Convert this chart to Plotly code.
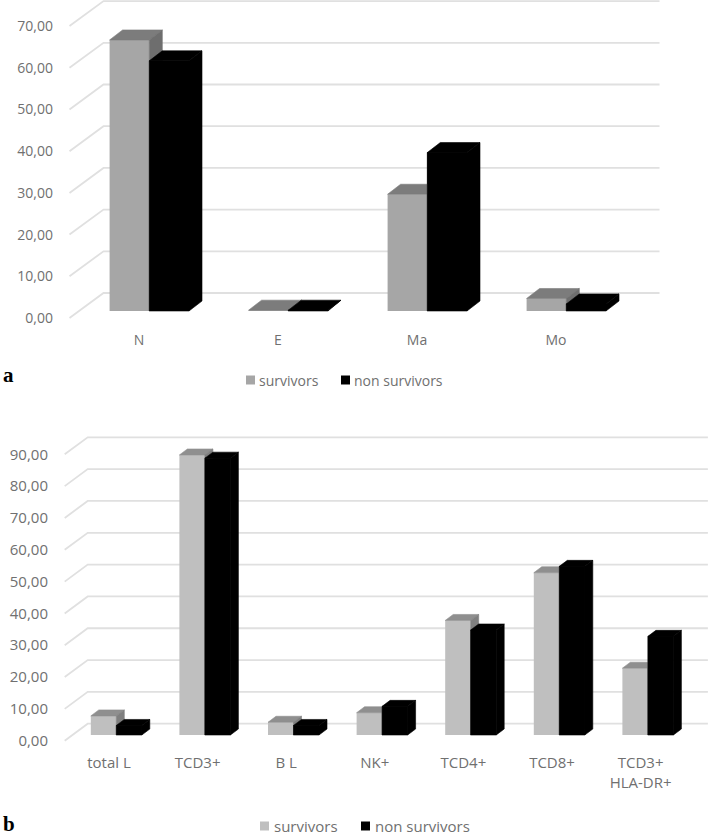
import plotly.graph_objects as go

# panel a
cats_a = ["N", "E", "Ma", "Mo"]
survivors_a = [65.0, 0.2, 28.0, 3.0]
non_survivors_a = [60.0, 0.2, 38.0, 1.7]
ticks_a = [0, 10, 20, 30, 40, 50, 60, 70]

# panel b
cats_b = ["total L", "TCD3+", "B L", "NK+", "TCD4+", "TCD8+", "TCD3+<br>HLA-DR+"]
survivors_b = [6.0, 88.0, 4.0, 7.0, 36.0, 51.0, 21.0]
non_survivors_b = [3.0, 87.0, 3.0, 9.0, 33.0, 53.0, 31.0]
ticks_b = [0, 10, 20, 30, 40, 50, 60, 70, 80, 90]

W, H = 709, 835
FONT = "Open Sans"
TEXT = "#707070"
GRID = "#e0e0e0"
LABELS = ["survivors", "non survivors"]


def face(fig, xs, ys, color, ax):
    fig.add_trace(go.Scatter(
        x=xs, y=ys, mode="lines", fill="toself", fillcolor=color,
        line=dict(color=color, width=0.6), hoverinfo="skip", showlegend=False,
        xaxis=ax[0], yaxis=ax[1],
    ))


def panel(fig, cats, surv, non, ticks, g, wall, bars):
    # g holds the pixel geometry of one panel
    cx = g["cat_w"]
    vy = g["val_h"]
    dom_x = (g["left"], g["right"])
    dom_y = (g["top"], g["bottom"])
    x_range = [(g["left"] - g["c0"]) / cx, (g["right"] - g["c0"]) / cx]
    y_range = [(g["y0"] - g["bottom"]) / vy, (g["y0"] - g["top"]) / vy]
    n = len(cats)

    floor_x, floor_y = g["floor"][0] / cx, g["floor"][1] / vy
    shift_x, base = g["shift"][0] / cx, g["shift"][1] / vy
    depth_x, depth_y = g["depth"][0] / cx, g["depth"][1] / vy
    bw = g["bar_w"] / cx

    # wall and floor lines, under the bars
    gx, gy = [], []
    for t in ticks:
        gx += [-0.5, -0.5 + floor_x, n - 0.5 + floor_x, None]
        gy += [t, t + floor_y, t + floor_y, None]
    fig.add_trace(go.Scatter(
        x=gx, y=gy, mode="lines", line=dict(color=GRID, width=1.8),
        hoverinfo="skip", showlegend=False, xaxis=wall[0], yaxis=wall[1],
    ))

    pos = list(range(n))
    fig.add_trace(go.Bar(
        x=[p + shift_x - bw / 2 for p in pos], y=surv, base=base, width=bw,
        name=LABELS[0], marker=dict(color=g["front"], line=dict(width=0)),
        showlegend=False, xaxis=bars[0], yaxis=bars[1],
    ))
    fig.add_trace(go.Bar(
        x=[p + shift_x + bw / 2 for p in pos], y=non, base=base, width=bw,
        name=LABELS[1], marker=dict(color="#000000", line=dict(width=0)),
        showlegend=False, xaxis=bars[0], yaxis=bars[1],
    ))

    # extruded faces, painted back to front per category
    for p, a, b in zip(pos, surv, non):
        xl = p + shift_x - bw
        xm = p + shift_x
        xr = p + shift_x + bw
        face(fig, [xl, xm, xm + depth_x, xl + depth_x, xl],
             [base + a, base + a, base + a + depth_y, base + a + depth_y, base + a],
             g["top_c"], bars)
        face(fig, [xm, xm + depth_x, xm + depth_x, xm, xm],
             [base + a, base + a + depth_y, base + depth_y, base, base + a],
             g["side_c"], bars)
        face(fig, [xm, xr, xr, xm, xm],
             [base, base, base + b, base + b, base], "#000000", bars)
        face(fig, [xm, xr, xr + depth_x, xm + depth_x, xm],
             [base + b, base + b, base + b + depth_y, base + b + depth_y, base + b],
             "#000000", bars)
        face(fig, [xr, xr + depth_x, xr + depth_x, xr, xr],
             [base + b, base + b + depth_y, base + depth_y, base, base + b],
             "#000000", bars)

    dx = [dom_x[0] / W, dom_x[1] / W]
    dy = [1 - dom_y[1] / H, 1 - dom_y[0] / H]
    tick_font = dict(family=FONT, size=g["font"], color=TEXT)
    fig.layout[wall[0].replace("x", "xaxis")] = dict(
        domain=dx, range=x_range, anchor=wall[1], showgrid=False, zeroline=False,
        showline=False, tickmode="array", tickvals=pos, ticktext=cats,
        tickfont=tick_font, ticks="",
    )
    fig.layout[wall[1].replace("y", "yaxis")] = dict(
        domain=dy, range=y_range, anchor=wall[0], showgrid=False, zeroline=False,
        showline=False, tickmode="array", tickvals=ticks,
        ticktext=[f"{t},00" for t in ticks], tickfont=tick_font, ticks="",
        ticklabelstandoff=g["standoff"],
    )
    fig.layout[bars[0].replace("x", "xaxis")] = dict(
        overlaying=wall[0], range=x_range, anchor=bars[1], visible=False,
    )
    fig.layout[bars[1].replace("y", "yaxis")] = dict(
        overlaying=wall[1], range=y_range, anchor=bars[0], visible=False,
    )


def key(fig, px, py, size, color, label, text_x, font_size):
    # legend entry: square swatch plus its label, placed in page pixels
    fig.add_shape(
        type="rect", xref="paper", yref="paper",
        x0=px / W, x1=(px + size) / W,
        y0=1 - (py + size / 2) / H, y1=1 - (py - size / 2) / H,
        fillcolor=color, line=dict(width=0),
    )
    fig.add_annotation(
        text=label, x=text_x / W, y=1 - py / H, xref="paper", yref="paper",
        xanchor="left", yanchor="middle", showarrow=False, xshift=-2,
        font=dict(family=FONT, size=font_size, color=TEXT),
    )


fig = go.Figure()

panel(fig, cats_a, survivors_a, non_survivors_a, ticks_a, dict(
    cat_w=139.0, val_h=4.17, c0=139.0, y0=318.0, left=68, right=662, top=0, bottom=330,
    floor=(34, 25), shift=(10.3, 7), depth=(13, 10), bar_w=39.7, font=14, standoff=14,
    front="#a6a6a6", top_c="#7c7c7c", side_c="#6e6e6e",
), ("x", "y"), ("x2", "y2"))

panel(fig, cats_b, survivors_b, non_survivors_b, ticks_b, dict(
    cat_w=88.6, val_h=3.182, c0=109.0, y0=740.7, left=64, right=709, top=430, bottom=752,
    floor=(23, 17), shift=(7.3, 5.7), depth=(8, 6), bar_w=25.5, font=15, standoff=15,
    front="#bfbfbf", top_c="#8f8f8f", side_c="#7f7f7f",
), ("x3", "y3"), ("x4", "y4"))

key(fig, 246, 380, 9, "#a6a6a6", LABELS[0], 259, 14)
key(fig, 341, 380, 9, "#000000", LABELS[1], 354, 14)
key(fig, 260, 826, 9, "#bfbfbf", LABELS[0], 274, 15)
key(fig, 361, 826, 9, "#000000", LABELS[1], 375, 15)

for letter, ly in (("a", 375), ("b", 824)):
    fig.add_annotation(
        text=f"<b>{letter}</b>", x=1 / W, y=1 - ly / H, xref="paper", yref="paper",
        xanchor="left", yanchor="middle", showarrow=False,
        font=dict(family="Liberation Serif", size=21, color="#000000"),
    )

fig.update_layout(
    width=W,
    height=H,
    margin=dict(l=0, r=0, t=0, b=0, autoexpand=False),
    paper_bgcolor="white",
    plot_bgcolor="white",
    barmode="overlay",
    hovermode=False,
    showlegend=False,
    font=dict(family=FONT, color=TEXT),
)

fig.write_html(
    "out.html",
    config=dict(displayModeBar=False),
    post_script="document.body.style.margin='0';",
)
